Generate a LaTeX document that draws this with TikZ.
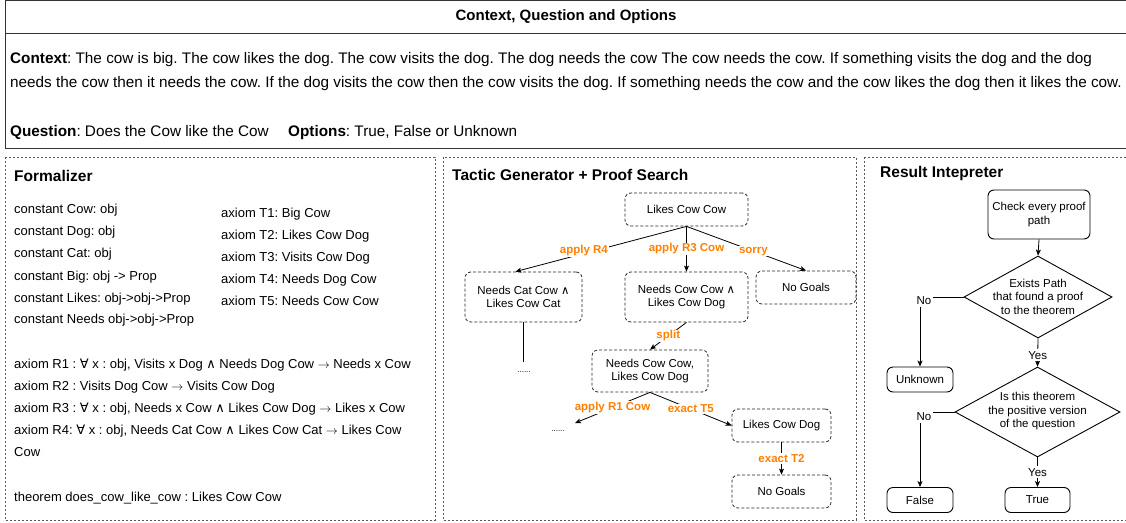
\documentclass[tikz,border=0pt]{standalone}
\usepackage{fontspec}
\setmainfont{Liberation Sans}
\newfontfamily\dvfont{DejaVu Sans}
\usetikzlibrary{shapes.geometric,arrows.meta}
\definecolor{lblorange}{HTML}{FF8000}
\newcommand\symAll{{\dvfont ∀}}
\newcommand\symAnd{{\dvfont ∧}}
\newcommand\symTo{$\rightarrow$}
\begin{document}
\frenchspacing
\begin{tikzpicture}[x=1pt,y=-1pt,
  every node/.style={font=\fontsize{11.5}{13.5}\selectfont, inner sep=0pt},
  panel/.style={draw=black!65, dash pattern=on 2pt off 2pt, line width=0.9pt},
  gbox/.style={draw=black!85, dash pattern=on 3pt off 2pt, rounded corners=6pt, align=center, line width=0.8pt},
  rbox/.style={draw=black, rounded corners=6pt, align=center, line width=0.9pt},
  dmd/.style={draw=black, diamond, line width=0.9pt},
  lbl/.style={text=lblorange, font=\bfseries\fontsize{11.5}{13.5}\selectfont, fill=white, inner sep=1pt},
  wlbl/.style={fill=white, inner sep=2pt},
  ftext/.style={anchor=base west, font=\fontsize{13}{15}\selectfont},
  ctext/.style={anchor=base west, font=\fontsize{15.3}{17}\selectfont},
  ttl/.style={anchor=base west, font=\bfseries\fontsize{15.5}{18}\selectfont},
  arr/.style={-{Stealth[length=6pt,width=5pt,inset=1.5pt]}, line width=0.8pt},
  edge/.style={line width=0.8pt},
  dots/.style={font=\fontsize{8}{9}\selectfont},
]
\useasboundingbox (0,0) rectangle (1126,522);
% ---------- top box ----------
\draw[black!80, line width=0.9pt] (5,0.5) rectangle (1130,148);
\draw[black!80, line width=0.9pt] (5,33) -- (1130,33);
\node[font=\bfseries\fontsize{15}{17}\selectfont, anchor=base] (ttop) at (566,20.5) {Context, Question and Options};
\node[ctext] (c1) at (10,63) {\textbf{Context}: The cow is big. The cow likes the dog. The cow visits the dog. The dog needs the cow The cow needs the cow. If something visits the dog and the dog};
\node[ctext] (c2) at (10,87) {needs the cow then it needs the cow. If the dog visits the cow then the cow visits the dog. If something needs the cow and the cow likes the dog then it likes the cow.};
\node[ctext] (q) at (10,136) {\textbf{Question}: Does the Cow like the Cow};
\node[ctext] (o) at (288,136) {\textbf{Options}: True, False or Unknown};
% ---------- panels ----------
\draw[panel] (5,157) rectangle (435,520);
\draw[panel] (443,157) rectangle (856,520);
\draw[panel] (864,157) rectangle (1130,520);
% ---------- Formalizer ----------
\node[ttl] (tf) at (14,181.5) {Formalizer};
\node[ftext] (f1) at (14,213) {constant Cow: obj};
\node[ftext] (f2) at (14,235) {constant Dog: obj};
\node[ftext] (f3) at (14,257) {constant Cat: obj};
\node[ftext] (f4) at (14,280) {constant Big: obj -> Prop};
\node[ftext] (f5) at (14,302) {constant Likes: obj->obj->Prop};
\node[ftext] (f6) at (14,323) {constant Needs obj->obj->Prop};
\node[ftext] (t1) at (221,217) {axiom T1: Big Cow};
\node[ftext] (t2) at (221,239) {axiom T2: Likes Cow Dog};
\node[ftext] (t3) at (221,261) {axiom T3: Visits Cow Dog};
\node[ftext] (t4) at (221,283) {axiom T4: Needs Dog Cow};
\node[ftext] (t5) at (221,305) {axiom T5: Needs Cow Cow};
\node[ftext] (r1) at (14,368) {axiom R1 : \symAll{} x : obj, Visits x Dog \symAnd{} Needs Dog Cow \symTo{} Needs x Cow};
\node[ftext] (r2) at (14,390) {axiom R2 : Visits Dog Cow \symTo{} Visits Cow Dog};
\node[ftext] (r3) at (14,412) {axiom R3 : \symAll{} x : obj, Needs x Cow \symAnd{} Likes Cow Dog \symTo{} Likes x Cow};
\node[ftext] (r4) at (14,434) {axiom R4: \symAll{} x : obj, Needs Cat Cow \symAnd{} Likes Cow Cat \symTo{} Likes Cow};
\node[ftext] (r4b) at (14,456) {Cow};
\node[ftext] (th) at (14,501) {theorem does\_cow\_like\_cow : Likes Cow Cow};
% ---------- Tactic generator ----------
\node[ttl] (tt) at (452,180.5) {Tactic Generator + Proof Search};
\node[gbox, minimum width=123, minimum height=33] (lcc) at (686.5,209.5) {Likes Cow Cow};
\node[gbox, minimum width=117, minimum height=50] (nca) at (523.5,297) {Needs Cat Cow \symAnd\\Likes Cow Cat};
\node[gbox, minimum width=123, minimum height=50] (ncd) at (686.5,297) {Needs Cow Cow \symAnd\\Likes Cow Dog};
\node[gbox, minimum width=100, minimum height=33] (ng1) at (806,287.5) {No Goals};
\node[gbox, minimum width=116, minimum height=42] (ncc) at (650,371) {Needs Cow Cow,\\Likes Cow Dog};
\node[gbox, minimum width=99, minimum height=33] (lcd) at (781.5,425.5) {Likes Cow Dog};
\node[gbox, minimum width=99, minimum height=33] (ng2) at (781.5,491.5) {No Goals};
\coordinate (e1) at (523.5,362);
\coordinate (e2) at (575,423);
\node[dots] (dt1) at (524,372) {......};
\node[dots] (dt2) at (558,431) {......};
\draw[arr] (lcc.south) -- node[lbl, pos=0.6, yshift=3pt] {apply R4} ([xshift=-8pt]nca.north);
\draw[arr] (lcc.south) -- node[lbl, pos=0.5] {apply R3 Cow} (ncd.north);
\draw[arr] (lcc.south) -- node[lbl, pos=0.56] {sorry} (ng1.north);
\draw[edge] (nca.south) -- (e1);
\draw[arr] (ncd.south) -- node[lbl, pos=0.5] {split} (ncc.north);
\draw[arr] (ncc.south) -- node[lbl, pos=0.5] {apply R1 Cow} (e2);
\draw[arr] (ncc.south) -- node[lbl, pos=0.5] {exact T5} (lcd.west);
\draw[arr] (lcd.south) -- node[lbl, pos=0.5] {exact T2} (ng2.north);
% ---------- Result interpreter ----------
\node[ttl] (tr) at (880,177.5) {Result Intepreter};
\node[rbox, minimum width=102, minimum height=49] (chk) at (1039,214.5) {Check every proof\\path};
\node[dmd, minimum width=148, minimum height=82, aspect=1.8] (da) at (1038,297) {};
\node[align=center] (dat) at (1038,296.5) {Exists Path\\that found a proof\\to the theorem};
\node[dmd, minimum width=165, minimum height=90, aspect=1.83] (db) at (1037.5,412) {};
\node[align=center] (dbt) at (1037.5,411.5) {Is this theorem\\the positive version\\of the question};
\node[rbox, minimum width=66, minimum height=25] (unk) at (920,379.5) {Unknown};
\node[rbox, minimum width=66, minimum height=25] (fal) at (920,500) {False};
\node[rbox, minimum width=65, minimum height=25] (tru) at (1037.5,500) {True};
\draw[arr] (chk.south) -- (da.north);
\draw[arr] (da.west) -| node[wlbl, pos=0.5, xshift=4pt, yshift=-4pt] {No} (unk.north);
\draw[arr] (da.south) -- node[wlbl, pos=0.6] {Yes} (db.north);
\draw[arr] (db.west) -| node[wlbl, pos=0.5, xshift=4pt, yshift=-5pt] {No} (fal.north);
\draw[arr] (db.south) -- node[wlbl, pos=0.5] {Yes} (tru.north);
\end{tikzpicture}
\end{document}
